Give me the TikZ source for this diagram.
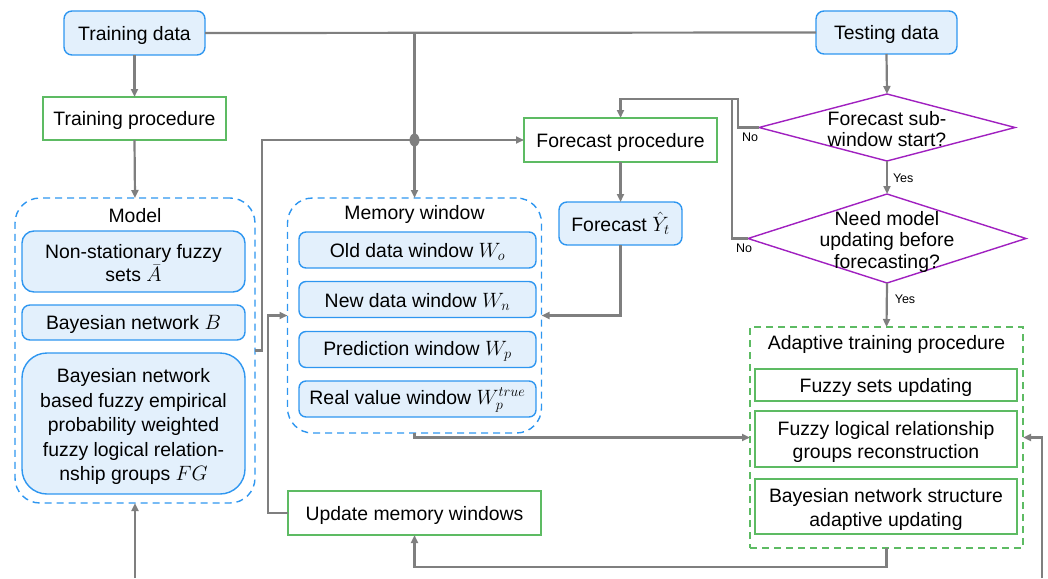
\documentclass[tikz,border=0pt]{standalone}
\usepackage{fontspec}
\setmainfont{Liberation Sans}
\usetikzlibrary{shapes.geometric,arrows.meta}

\definecolor{boxblue}{HTML}{2E96F0}
\definecolor{fillblue}{HTML}{E3F0FC}
\definecolor{boxgreen}{HTML}{5DBB63}
\definecolor{decpurple}{HTML}{A020C0}
\definecolor{wire}{HTML}{7F7F7F}

% line box used to centre text lines by ascent and descent
\newcommand\linestrut{\rule[-0.17em]{0pt}{1.12em}}

\begin{document}
\begin{tikzpicture}[x=1pt,y=-1pt,
  every node/.style={font=\fontsize{19.4}{23.75}\selectfont, inner sep=0pt, outer sep=0pt, align=center,
    execute at begin node=\linestrut, execute at end node=\linestrut},
  lines/.style={yshift=-3pt},
  databox/.style={draw=boxblue, fill=fillblue, line width=1.4pt, rounded corners=8pt},
  procbox/.style={draw=boxgreen, fill=white, line width=1.4pt},
  bluegroup/.style={draw=boxblue, line width=1.4pt, dash pattern=on 7pt off 5pt, rounded corners=25pt},
  greengroup/.style={draw=boxgreen, line width=1.4pt, dash pattern=on 7pt off 5pt},
  decision/.style={diamond, draw=decpurple, line width=1.4pt, fill=white},
  dectext/.style={lines, font=\fontsize{19.4}{21.5}\selectfont},
  flow/.style={draw=wire, line width=2.2pt},
  arr/.style={flow, -{Triangle[length=8pt,width=7pt]}},
  small/.style={font=\fontsize{12.5}{14}\selectfont}
]
\useasboundingbox (0,0) rectangle (1048,578);

% data sources
\node[databox, minimum width=141pt, minimum height=44pt] (train) at (134.5,33) {Training data};
\node[databox, minimum width=141pt, minimum height=43pt] (test) at (886.5,32.5) {Testing data};

% training side
\node[procbox, minimum width=183pt, minimum height=43pt] (trainproc) at (134.5,118.5) {Training procedure};

% model group
\node[bluegroup, minimum width=240pt, minimum height=305pt] (model) at (135,350.5) {};
\node (modeltitle) at (135,214.5) {Model};
\node[databox, rounded corners=12pt, minimum width=223pt, minimum height=61pt] (fuzzysets) at (133.5,261.5) {};
\node[lines] (fuzzysetstext) at (fuzzysets.center) {Non-stationary fuzzy\\ sets $\bar{A}$};
\node[databox, minimum width=223pt, minimum height=35pt] (bnet) at (133.5,322.5) {Bayesian network $B$};
\node[databox, rounded corners=25pt, minimum width=223pt, minimum height=141pt] (flrg) at (133.5,423.5) {};
\node[lines, font=\fontsize{19.4}{24.5}\selectfont] (flrgtext) at (flrg.center) {Bayesian network\\ based fuzzy empirical\\ probability weighted\\ fuzzy logical relation-\\ nship groups $FG$};

% memory window group
\node[bluegroup, minimum width=254pt, minimum height=235pt] (mem) at (414.5,315.5) {};
\node (memtitle) at (414.5,212.5) {Memory window};
\node[databox, rounded corners=7pt, minimum width=237pt, minimum height=36pt] (wold) at (417.5,250) {Old data window $W_o$};
\node[databox, rounded corners=7pt, minimum width=237pt, minimum height=36pt] (wnew) at (417.5,299.5) {New data window $W_n$};
\node[databox, rounded corners=7pt, minimum width=237pt, minimum height=36pt] (wpred) at (417.5,349.5) {Prediction window $W_p$};
\node[databox, rounded corners=7pt, minimum width=237pt, minimum height=36pt] (wtrue) at (417.5,399) {Real value window $W_p^{true}$};

% forecasting
\node[procbox, minimum width=193pt, minimum height=44pt] (fproc) at (620.5,140) {Forecast procedure};
\node[databox, minimum width=123pt, minimum height=43pt] (fcast) at (620.5,223.5) {Forecast $\hat{Y}_t$};

% decisions
\node[decision, minimum width=256pt, minimum height=67pt] (d1) at (887,127.5) {};
\node[dectext] (d1text) at (d1.center) {Forecast sub-\\ window start?};
\node[decision, minimum width=278pt, minimum height=89pt] (d2) at (887,238.5) {};
\node[dectext] (d2text) at (d2.center) {Need model\\ updating before\\ forecasting?};

% adaptive training group
\node[greengroup, minimum width=273pt, minimum height=221pt] (adapt) at (886.5,437.5) {};
\node (adapttitle) at (886.5,342.5) {Adaptive training procedure};
\node[procbox, minimum width=262pt, minimum height=32pt] (fsupd) at (886,385) {Fuzzy sets updating};
\node[procbox, minimum width=262pt, minimum height=56pt] (flrgrec) at (886,439) {};
\node[lines] (flrgrectext) at (flrgrec.center) {Fuzzy logical relationship\\ groups reconstruction};
\node[procbox, minimum width=262pt, minimum height=55pt] (bnsupd) at (886,506.5) {};
\node[lines] (bnsupdtext) at (bnsupd.center) {Bayesian network structure\\ adaptive updating};

\node[procbox, minimum width=253pt, minimum height=44pt] (update) at (414.5,513) {Update memory windows};

% connectors
\draw[arr] (train.south) -- (trainproc.north);
\draw[arr] (trainproc.south) -- (model.north);
\draw[flow] (train.east) -- (test.west);
\draw[arr] (train.east -| mem.north) -- (mem.north);
\coordinate (junction) at (mem.north |- fproc.west);
\draw[arr] (model.east) -- ++(7,0) |- (fproc.west);
\fill[wire] (junction) ellipse [x radius=5pt, y radius=6.5pt];

\draw[arr] (test.south) -- (d1.north);
\draw[arr] (d1.south) -- node[small, right=6pt] (yes1) {Yes} (d2.north);
\draw[arr] (d2.south) -- node[small, right=8pt, pos=0.35] (yes2) {Yes} (adapt.north);

\coordinate (ret) at (fproc.north |- 0,99);
\draw[arr] (d1.west) -- ++(-21,0) |- (ret) -- (fproc.north);
\draw[flow] (d2.west) -- ++(-16,0) |- (ret);
\node[small] (no1) at (750,137) {No};
\node[small] (no2) at (744,248) {No};

\draw[arr] (fproc.south) -- (fcast.north);
\draw[arr] (fcast.south) |- (mem.east);
\draw[arr] (mem.south) |- (adapt.west);
\draw[arr] (adapt.south) -- ++(0,19) -| (update.south);
\draw[arr] (update.west) -- ++(-20,0) |- (mem.west);

\coordinate (feedR) at (1042,578);
\draw[arr] (feedR) |- (adapt.east);
\coordinate (feedL) at (model.south |- 0,578);
\draw[arr] (feedL) -- (model.south);
\end{tikzpicture}
\end{document}
